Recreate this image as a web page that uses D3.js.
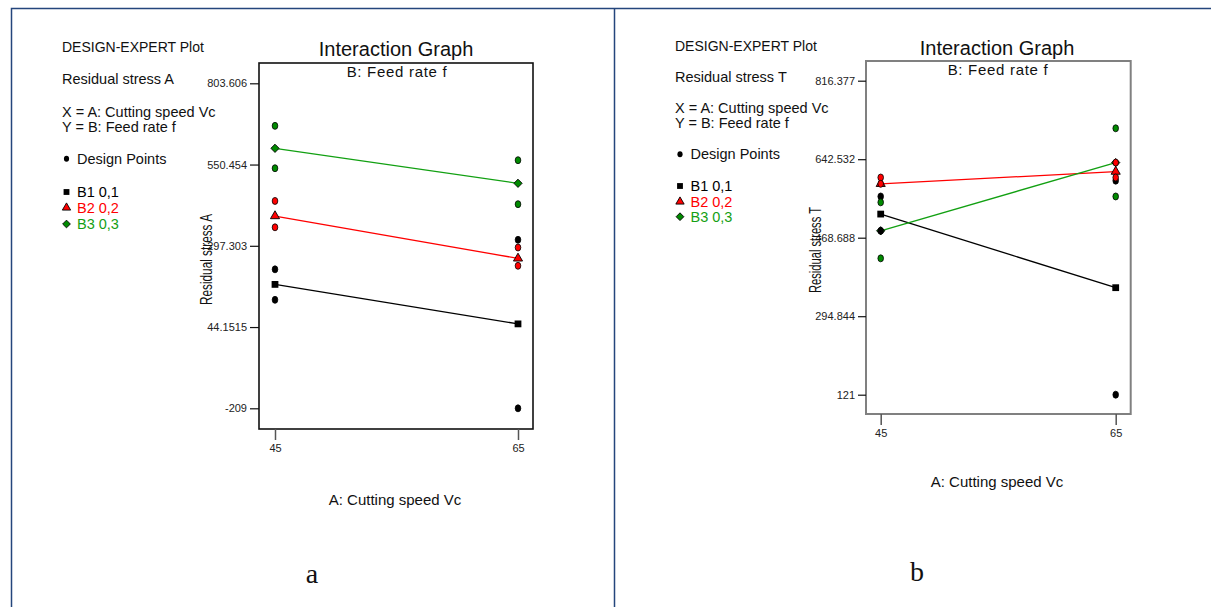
<!DOCTYPE html>
<html>
<head>
<meta charset="utf-8">
<script src="https://cdn.jsdelivr.net/npm/d3@7"></script>
<style>
  body { margin: 0; background: #fff; }
  svg { display: block; font-family: "Liberation Sans", Arial, sans-serif; }
</style>
</head>
<body>
<svg id="fig" width="1211" height="607"></svg>
<script>
// Factor levels
const speedLevels = [45, 65];
const feedLabels = ["B1 0,1", "B2 0,2", "B3 0,3"];

// Panel a: residual stress A
const tickValuesA = [-209, 44.1515, 297.303, 550.454, 803.606];
const tickLabelsA = ["-209", "44.1515", "297.303", "550.454", "803.606"];
const meanA_B1 = [177, 54];
const meanA_B2 = [390, 258];
const meanA_B3 = [601, 492];
const designA_B1 = [[45, 224], [45, 129], [65, 316], [65, -209]];
const designA_B2 = [[45, 437], [45, 355], [65, 292], [65, 235]];
const designA_B3 = [[45, 671], [45, 539], [65, 564], [65, 427]];

// Panel b: residual stress T
const tickValuesT = [121, 294.844, 468.688, 642.532, 816.377];
const tickLabelsT = ["121", "294.844", "468.688", "642.532", "816.377"];
const meanT_B1 = [521, 358];
const meanT_B2 = [588, 615];
const meanT_B3 = [484, 635];
const designT_B1 = [[45, 560], [45, 484], [65, 595], [65, 121]];
const designT_B2 = [[45, 602], [45, 588], [65, 635], [65, 602]];
const designT_B3 = [[45, 547], [45, 423], [65, 711], [65, 560]];

const lineColors = ["#000000", "#ff0000", "#12a012"];
const pointFills = ["#000000", "#ff0000", "#008a00"];
const legendText = ["#000000", "#ff0000", "#14a014"];
const SANS = "'Liberation Sans', Arial, sans-serif";
const SERIF = "'Liberation Serif', 'Times New Roman', serif";

// square / triangle / diamond (square turned 45 degrees)
function marker(i, size) {
  if (i === 0) return d3.symbol(d3.symbolSquare, size)();
  if (i === 1) return d3.symbol(d3.symbolTriangle, size)();
  const h = Math.sqrt(size) / Math.SQRT2 * 1.0;
  return `M0,${-h}L${h},0L0,${h}L${-h},0Z`;
}

const svg = d3.select("#fig");

// page frame (table rules)
svg.append("path")
  .attr("d", "M11.5,607V8.5H1211")
  .attr("fill", "none").attr("stroke", "#24467c").attr("stroke-width", 1.5);
svg.append("line")
  .attr("x1", 614.5).attr("x2", 614.5).attr("y1", 8).attr("y2", 607)
  .attr("stroke", "#24467c").attr("stroke-width", 1.5);

const panels = [
  {
    response: "Residual stress A", letter: "a",
    legendX: 62, legendRows: [47, 79, 111.7, 127.3, 158.7, 192, 207.7, 224], markerX: 66.5, textX: 77,
    frame: [259, 63, 533, 429], frameColor: "#111", frameWidth: 1.6,
    xRange: [275, 518], yRange: [408.3, 83.3], domain: [-209, 803.606],
    ticks: tickValuesA, labels: tickLabelsA, yTick: 9, xTick: 11,
    title: [396, 49], sub: [397, 72], yTitle: [206, 259.5, 91], xTitle: [395, 500], letterPos: [312, 575],
    means: [meanA_B1, meanA_B2, meanA_B3], design: [designA_B1, designA_B2, designA_B3]
  },
  {
    response: "Residual stress T", letter: "b",
    legendX: 675, legendRows: [46, 77.3, 108.3, 123.3, 154.3, 186, 201.7, 216.7], markerX: 680, textX: 690.5,
    frame: [866, 61, 1130.7, 414], frameColor: "#808080", frameWidth: 2,
    xRange: [880.7, 1115.7], yRange: [394.7, 80.7], domain: [121, 816.377],
    ticks: tickValuesT, labels: tickLabelsT, yTick: 8, xTick: 11,
    title: [997, 48], sub: [998, 69.5], yTitle: [815, 250, 86], xTitle: [997, 482], letterPos: [917, 573],
    means: [meanT_B1, meanT_B2, meanT_B3], design: [designT_B1, designT_B2, designT_B3]
  }
];

panels.forEach(p => {
  const g = svg.append("g");
  const x = d3.scaleLinear().domain([45, 65]).range(p.xRange);
  const y = d3.scaleLinear().domain(p.domain).range(p.yRange);

  // side legend
  const r = p.legendRows;
  const lg = g.append("g").style("font-size", "14.5px").attr("fill", "#111");
  lg.append("text").attr("x", p.legendX).attr("y", r[0]).attr("dy", "0.35em")
    .style("font-size", "14px").text("DESIGN-EXPERT Plot");
  lg.append("text").attr("x", p.legendX).attr("y", r[1]).attr("dy", "0.35em").text(p.response);
  lg.append("text").attr("x", p.legendX).attr("y", r[2]).attr("dy", "0.35em").text("X = A: Cutting speed Vc");
  lg.append("text").attr("x", p.legendX).attr("y", r[3]).attr("dy", "0.35em").text("Y = B: Feed rate f");
  lg.append("ellipse").attr("cx", p.markerX).attr("cy", r[4]).attr("rx", 2.6).attr("ry", 3).attr("fill", "#000");
  lg.append("text").attr("x", p.textX).attr("y", r[4]).attr("dy", "0.35em").text("Design Points");
  feedLabels.forEach((lab, i) => {
    lg.append("path")
      .attr("d", marker(i, i === 0 ? 34 : 30))
      .attr("transform", `translate(${p.markerX},${r[5 + i]})`)
      .attr("fill", pointFills[i]).attr("stroke", "#000").attr("stroke-width", i === 0 ? 0 : 0.9);
    lg.append("text").attr("x", p.textX).attr("y", r[5 + i]).attr("dy", "0.35em")
      .attr("fill", legendText[i]).text(lab);
  });

  // titles
  g.append("text").attr("x", p.title[0]).attr("y", p.title[1]).attr("dy", "0.35em")
    .attr("text-anchor", "middle").style("font-size", "20px").attr("fill", "#111").text("Interaction Graph");
  g.append("text").attr("x", p.sub[0]).attr("y", p.sub[1]).attr("dy", "0.35em")
    .attr("text-anchor", "middle").style("font-size", "15px").attr("letter-spacing", 0.7)
    .attr("fill", "#111").text("B: Feed rate f");

  // plot frame
  const [fx0, fy0, fx1, fy1] = p.frame;
  g.append("rect").attr("x", fx0).attr("y", fy0).attr("width", fx1 - fx0).attr("height", fy1 - fy0)
    .attr("fill", "none").attr("stroke", p.frameColor).attr("stroke-width", p.frameWidth);

  // axes
  const ya = g.append("g").attr("transform", `translate(${fx0},0)`)
    .call(d3.axisLeft(y).tickValues(p.ticks).tickSize(p.yTick).tickPadding(3)
      .tickFormat((d, i) => p.labels[i]));
  ya.select(".domain").remove();
  ya.selectAll("text").style("font-size", "11px").style("font-family", SANS).attr("fill", "#222");
  ya.selectAll("line").attr("stroke", "#111").attr("stroke-width", 1.2);

  const xa = g.append("g").attr("transform", `translate(0,${fy1})`)
    .call(d3.axisBottom(x).tickValues(speedLevels).tickSize(p.xTick).tickPadding(4).tickFormat(d3.format("d")));
  xa.select(".domain").remove();
  xa.selectAll("text").style("font-size", "11px").style("font-family", SANS).attr("fill", "#222");
  xa.selectAll("line").attr("stroke", "#555").attr("stroke-width", 1.5);

  // axis titles
  g.append("text")
    .attr("transform", `translate(${p.yTitle[0]},${p.yTitle[1]}) rotate(-90)`)
    .attr("dy", "0.35em").attr("text-anchor", "middle").style("font-size", "16.5px")
    .attr("textLength", p.yTitle[2]).attr("lengthAdjust", "spacingAndGlyphs")
    .attr("fill", "#111").text(p.response);
  g.append("text").attr("x", p.xTitle[0]).attr("y", p.xTitle[1]).attr("dy", "0.35em")
    .attr("text-anchor", "middle").style("font-size", "15px").attr("fill", "#111").text("A: Cutting speed Vc");

  // panel letter
  g.append("text").attr("x", p.letterPos[0]).attr("y", p.letterPos[1]).attr("dy", "0.3em")
    .attr("text-anchor", "middle").style("font-size", "28px")
    .style("font-family", SERIF).attr("fill", "#111").text(p.letter);

  // interaction lines through level means
  const line = d3.line().x(d => x(d[0])).y(d => y(d[1]));
  p.means.forEach((m, i) => {
    const pts = speedLevels.map((s, k) => [s, m[k]]);
    g.append("path").attr("d", line(pts)).attr("fill", "none")
      .attr("stroke", lineColors[i]).attr("stroke-width", 1.3);
  });
  p.means.forEach((m, i) => {
    speedLevels.forEach((s, k) => {
      g.append("path")
        .attr("d", marker(i, i === 0 ? 46 : i === 1 ? 36 : 34))
        .attr("transform", `translate(${x(s)},${y(m[k])})`)
        .attr("fill", pointFills[i]).attr("stroke", "#000").attr("stroke-width", i === 0 ? 0 : 0.9);
    });
  });

  // design points
  p.design.forEach((pts, i) => {
    g.selectAll(null).data(pts).enter().append("ellipse")
      .attr("cx", d => x(d[0])).attr("cy", d => y(d[1]))
      .attr("rx", 2.8).attr("ry", 3.5)
      .attr("fill", pointFills[i]).attr("stroke", "#000").attr("stroke-width", 0.8);
  });
});
</script>
</body>
</html>
